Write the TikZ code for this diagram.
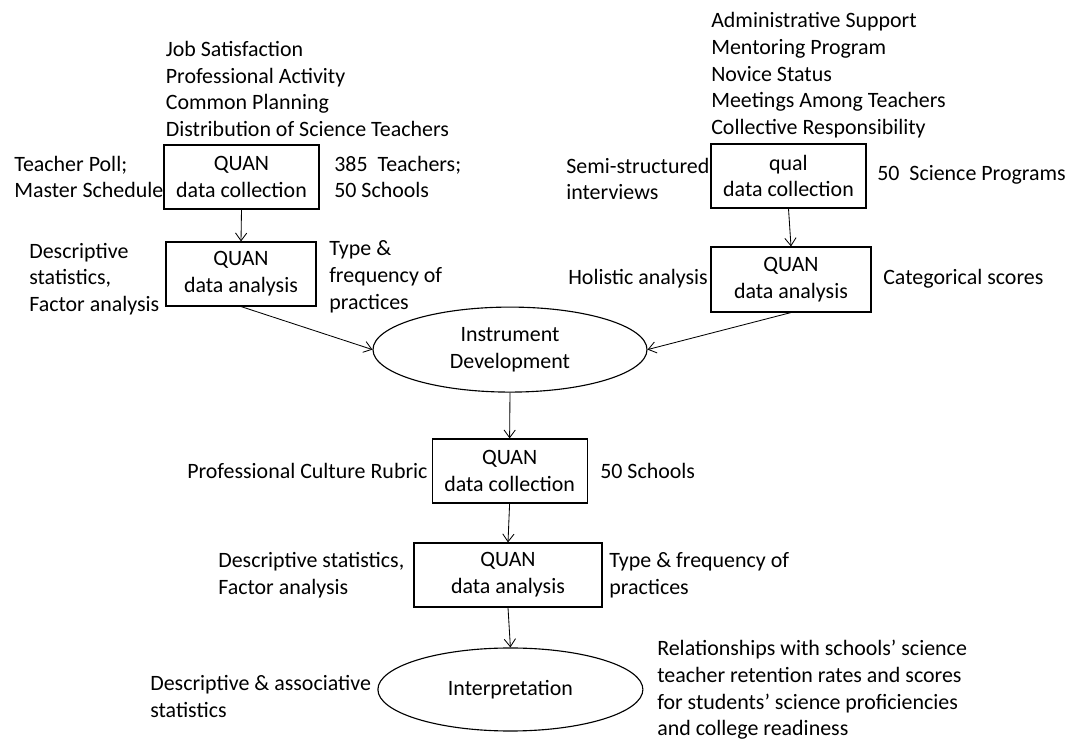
\documentclass[tikz,border=0pt]{standalone}
\usepackage{fontspec}
\setmainfont{Carlito}
\usetikzlibrary{arrows.meta,positioning,shapes.geometric}

\begin{document}
\begin{tikzpicture}[
  font=\fontsize{15.6}{19}\selectfont,
  flowbox/.style={draw,line width=0.8pt,align=center,inner sep=2pt},
  flowoval/.style={ellipse,draw,line width=0.8pt,align=center,inner sep=0pt},
  flowlabel/.style={align=left,anchor=west,inner sep=0pt},
  flowarrow/.style={-{Straight Barb[length=5.5pt,width=8pt]},line width=0.6pt}
]
  \useasboundingbox (0,0) rectangle (26.75,18.5);
  % QUAN strand
  \node[flowbox,minimum width=3.875cm,minimum height=1.6cm] (qncoll) at (6.0375,14.075)
    {QUAN\\data collection};
  \node[flowbox,minimum width=3.75cm,minimum height=1.6cm] (qnanal) at (6.025,11.65)
    {QUAN\\data analysis};
  \node[flowlabel] (qnvars) at (4.14,16.275) {Job Satisfaction\\Professional Activity\\
    Common Planning\\Distribution of Science Teachers};
  \node[flowlabel] (qnsrc) at (0.35,14.075) {Teacher Poll;\\Master Schedule};
  \node[flowlabel] (qnsample) at (8.35,14.075) {385\ \ Teachers;\\50 Schools};
  \node[flowlabel] (qnmeth) at (0.725,11.525) {Descriptive\\statistics,\\Factor analysis};
  \node[flowlabel] (qnres) at (8.225,11.58) {Type \&\\frequency of\\practices};
  % qual strand
  \node[flowbox,minimum width=3.875cm,minimum height=1.6cm] (qlcoll) at (19.7125,14.1)
    {qual\\data collection};
  \node[flowbox,minimum width=4.0cm,minimum height=1.625cm] (qlanal) at (19.775,11.5125)
    {QUAN\\data analysis};
  \node[flowlabel] (qlvars) at (17.775,16.62) {Administrative Support\\Mentoring Program\\
    Novice Status\\Meetings Among Teachers\\Collective Responsibility};
  \node[flowlabel] (qlsrc) at (14.15,14.025) {Semi-structured\\interviews};
  \node[flowlabel] (qlsample) at (21.925,14.125) {50\ \ Science Programs};
  \node[flowlabel] (qlmeth) at (14.2,11.525) {Holistic analysis};
  \node[flowlabel] (qlres) at (22.075,11.525) {Categorical scores};
  % merge
  \node[flowoval,minimum width=6.85cm,minimum height=2.125cm] (instdev) at (12.75,9.76)
    {Instrument\\Development};
  \node[flowbox,minimum width=3.875cm,minimum height=1.6cm] (prcoll) at (12.74,6.725)
    {QUAN\\data collection};
  \node[flowbox,minimum width=4.7cm,minimum height=1.6cm] (pranal) at (12.7,4.125)
    {QUAN\\data analysis};
  \node[flowoval,minimum width=6.625cm,minimum height=2.075cm] (interp) at (12.76,1.2625)
    {Interpretation};
  \node[flowlabel] (prsrc) at (4.675,6.725) {Professional Culture Rubric};
  \node[flowlabel] (prsample) at (15.0,6.725) {50 Schools};
  \node[flowlabel] (prmeth) at (5.45,4.125) {Descriptive statistics,\\Factor analysis};
  \node[flowlabel] (prres) at (15.225,4.125) {Type \& frequency of\\practices};
  \node[flowlabel] (intmeth) at (3.75,1.0875) {Descriptive \& associative\\statistics};
  \node[flowlabel] (intres) at (16.425,1.25) {Relationships with schools’ science\\
    teacher retention rates and scores\\for students’ science proficiencies\\
    and college readiness};
  % connectors
  \draw[flowarrow] (qncoll.south) -- (qnanal.north);
  \draw[flowarrow] (qlcoll.south) -- (qlanal.north);
  \draw[flowarrow] (qnanal.south) -- (instdev.west);
  \draw[flowarrow] (qlanal.south) -- (instdev.east);
  \draw[flowarrow] (instdev.south) -- (prcoll.north);
  \draw[flowarrow] (prcoll.south) -- (pranal.north);
  \draw[flowarrow] (pranal.south) -- (interp.north);
\end{tikzpicture}
\end{document}
